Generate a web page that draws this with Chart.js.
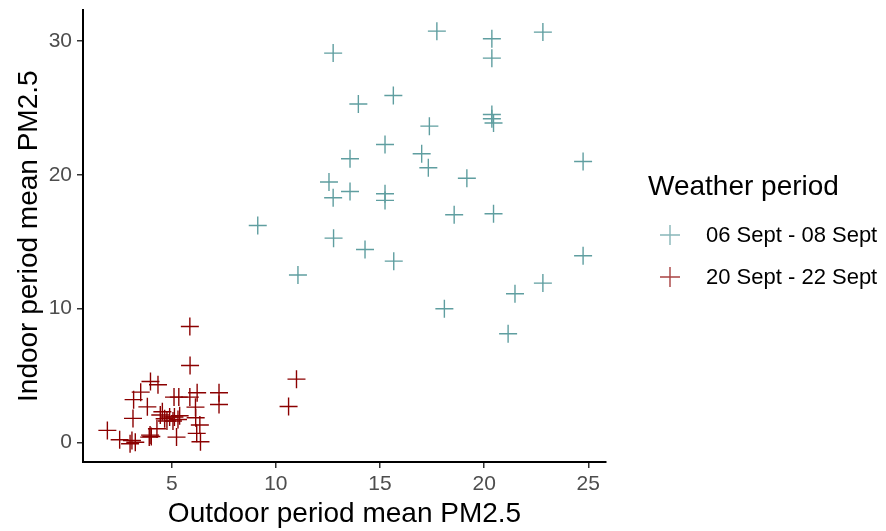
<!DOCTYPE html>
<html>
<head>
<meta charset="utf-8">
<script src="https://cdn.jsdelivr.net/npm/chart.js@4"></script>
<style>
  html, body { margin: 0; padding: 0; background: #fff; }
  #chart { display: block; }
</style>
</head>
<body>
<canvas id="chart" width="886" height="531"></canvas>
<script>
/* ─── DATA ────────────────────────────────────────────────── */
const seriesLabels = ['06 Sept - 08 Sept', '20 Sept - 22 Sept'];

const outdoorSep06 = [17.73, 20.37, 22.82, 12.75, 20.37, 13.96, 15.64, 20.37, 20.37, 20.45,
                      17.37, 15.24, 13.56, 17.00, 17.32, 24.75, 19.17, 12.55, 13.56, 12.75,
                      15.24, 15.24, 18.56, 20.45,  9.13, 12.77, 14.28, 15.66, 24.75, 11.06,
                      22.82, 21.48, 18.09, 21.15];
const indoorSep06  = [30.74, 30.17, 30.67, 29.10, 28.72, 25.29, 25.93, 24.51, 24.19, 23.87,
                      23.64, 22.27, 21.20, 21.58, 20.53, 21.00, 19.75, 19.46, 18.76, 18.29,
                      18.59, 18.09, 17.02, 17.09, 16.22, 15.27, 14.42, 13.55, 13.95, 12.51,
                      11.91, 11.11,  9.99,  8.12];

const outdoorSep20 = [5.87, 5.88, 10.99, 10.61, 3.98, 4.34, 3.51, 3.17, 3.14, 3.83,
                      1.91, 2.50,  3.09,  3.25, 3.00, 3.92, 4.29, 4.55, 4.66, 4.90,
                      5.13, 5.38,  4.77,  5.06, 5.30, 5.11, 5.34, 5.23, 5.87, 6.22,
                      6.14, 6.15,  6.35,  6.20, 6.38, 7.27, 7.27, 4.02, 4.45, 3.96];
const indoorSep20  = [8.67, 5.75, 4.73, 2.69, 4.56, 4.31, 3.76, 3.20, 1.80, 2.66,
                      0.90, 0.20, 0.15, 0.02, -0.10, 0.40, 1.02, 2.30, 1.77, 1.90,
                      1.90, 2.00, 1.60, 1.60, 1.72, 3.39, 3.39, 0.40, 3.39, 3.71,
                      2.64, 1.85, 1.30, 0.68, 0.05, 3.71, 2.84, 0.45, 2.05, 0.55];

const xTicks = [5, 10, 15, 20, 25];
const yTicks = [0, 10, 20, 30];

/* ─── STYLE ───────────────────────────────────────────────── */
const TEAL = '#5f9ea0';
const DARKRED = '#8b0000';
const FONT = "'Liberation Sans', Arial, sans-serif";

const toPoints = (xs, ys) => xs.map((x, i) => ({ x, y: ys[i] }));

/* ─── LEGEND (drawn on the canvas) ────────────────────────── */
const weatherLegend = {
  id: 'weatherLegend',
  afterDraw(chart) {
    const c = chart.ctx;
    c.save();
    c.fillStyle = '#000';
    c.textBaseline = 'middle';
    c.textAlign = 'left';
    c.font = `28px ${FONT}`;
    c.fillText('Weather period', 648, 187);
    c.font = `22px ${FONT}`;
    chart.data.datasets.forEach((ds, i) => {
      const cy = 235 + i * 42;
      const cx = 670;
      c.strokeStyle = ds.borderColor;
      c.globalAlpha = 0.75;
      c.lineWidth = 1.4;
      c.beginPath();
      c.moveTo(cx - 10, cy); c.lineTo(cx + 10, cy);
      c.moveTo(cx, cy - 10); c.lineTo(cx, cy + 10);
      c.stroke();
      c.globalAlpha = 1;
      c.fillText(ds.label, 706, cy + 1);
    });
    c.restore();
  },
};

/* ─── CHART ───────────────────────────────────────────────── */
const axisCommon = {
  type: 'linear',
  grid: { drawOnChartArea: false, drawTicks: true, tickLength: 6, color: '#333', lineWidth: 1.5 },
  border: { display: true, color: '#000', width: 2 },
};

new Chart(document.getElementById('chart').getContext('2d'), {
  type: 'scatter',
  data: {
    datasets: [
      {
        label: seriesLabels[0],
        data: toPoints(outdoorSep06, indoorSep06),
        pointStyle: 'cross',
        pointRadius: 9,
        borderWidth: 1.4,
        borderColor: TEAL,
        backgroundColor: TEAL,
      },
      {
        label: seriesLabels[1],
        data: toPoints(outdoorSep20, indoorSep20),
        pointStyle: 'cross',
        pointRadius: 9,
        borderWidth: 1.4,
        borderColor: DARKRED,
        backgroundColor: DARKRED,
      },
    ],
  },
  options: {
    responsive: false,
    animation: false,
    layout: { padding: { top: 10, right: 280, left: 0, bottom: 0 } },
    plugins: {
      legend: { display: false },
      tooltip: { enabled: false },
    },
    scales: {
      x: {
        ...axisCommon,
        min: 0.74,
        max: 25.85,
        afterBuildTicks: s => { s.ticks = xTicks.map(v => ({ value: v })); },
        afterFit: s => { s.height = 69; s.paddingLeft = 0; s.paddingRight = 0; },
        ticks: { color: '#4d4d4d', font: { family: FONT, size: 21 }, padding: 4, maxRotation: 0 },
        title: {
          display: true,
          text: 'Outdoor period mean PM2.5',
          color: '#000',
          font: { family: FONT, size: 28 },
          padding: { top: 0, bottom: 0 },
        },
      },
      y: {
        ...axisCommon,
        min: -1.46,
        max: 32.29,
        afterBuildTicks: s => { s.ticks = yTicks.map(v => ({ value: v })); },
        afterFit: s => { s.width = 83; s.paddingTop = 0; s.paddingBottom = 0; },
        ticks: { color: '#4d4d4d', font: { family: FONT, size: 21 }, padding: 5 },
        title: {
          display: true,
          text: 'Indoor period mean PM2.5',
          color: '#000',
          font: { family: FONT, size: 28 },
          padding: { top: 12, bottom: 0 },
        },
      },
    },
  },
  plugins: [weatherLegend],
});
</script>
</body>
</html>
